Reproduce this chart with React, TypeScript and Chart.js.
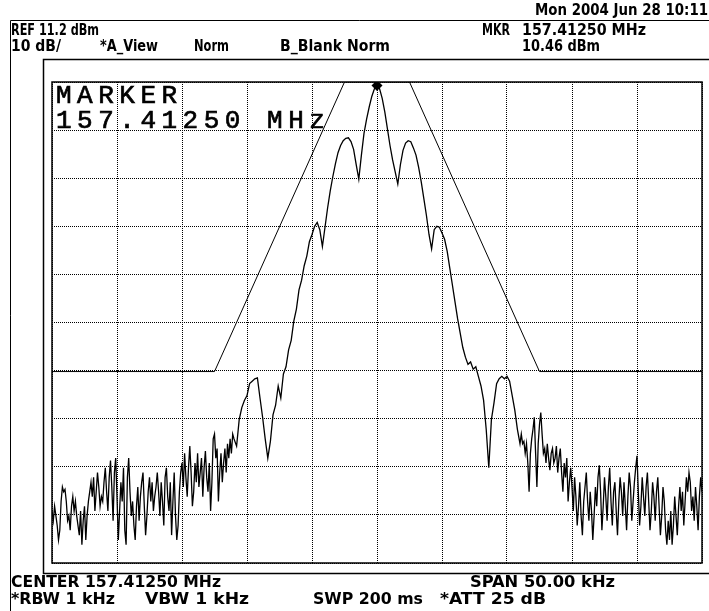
import React, { useEffect, useRef } from "react";
import { Chart, registerables } from "chart.js";

Chart.register(...registerables);

// ---- analyzer settings ----
const REF_LEVEL = 11.2; // dBm, top of screen
const DB_PER_DIV = 10;
const DIVISIONS = 10;
const SPAN_KHZ = 50;

// ---- trace (dBm), left to right ----
// noise floor, -25.0 .. -11.1 kHz, 0.1 kHz apart
const leftFloor = [
  -78, -80, -77, -79, -81, -84, -82, -76, -73, -74,
  -73.5, -76, -80, -79, -82, -77, -75, -78, -76, -79,
  -81, -83, -78, -85, -80, -77, -84, -79, -76, -74,
  -72, -75, -71, -78, -74, -70, -73, -77, -75, -76,
  -72, -69, -74, -78, -71, -67.5, -73, -80, -70, -67,
  -75, -84, -78, -72, -76, -69, -82, -85, -71, -67,
  -74, -79, -76, -81, -84, -77, -73, -80, -75, -72,
  -70, -77, -83, -79, -74, -71, -76, -72, -78, -75,
  -73, -70, -74, -79, -72, -76, -81, -71, -69, -75,
  -78, -72, -83, -76, -70, -79, -84, -81, -74, -70,
  -68, -73, -66, -71, -75, -69, -64.5, -70, -77, -74,
  -68, -72, -66, -73, -70, -67, -75, -69, -65.5, -71,
  -74, -68, -78, -72, -63, -62, -67, -65, -76, -70,
  -66, -72, -68, -65, -70, -64, -67, -63, -66, -62,
];
// left skirt, -11.0 .. -5.2 kHz, 0.2 kHz apart
const leftSkirt = [
  -63, -64.5, -59, -56.5, -55, -54, -51.5, -51, -50.5, -50.3,
  -54.5, -58.5, -63, -67, -63.5, -58, -56, -52, -54.5, -49.5,
  -48, -44.5, -42.5, -38.5, -36, -32, -30, -27, -25, -22,
];
// main lobe, -5.0 .. +5.0 kHz, 0.2 kHz apart
const mainLobe = [
  -20.5, -18.8, -18, -19.5, -23, -19, -15, -11.5, -8.5, -5.8,
  -3.5, -2, -1, -0.5, -0.4, -1.2, -2.8, -6, -9, -4,
  0.5, 3.5, 6, 8.2, 9.8, 10.46, 9.8, 7.8, 5, 1.5,
  -2, -5, -7.5, -10, -6, -3, -1.5, -1, -1.2, -2.5,
  -4, -6.5, -9.5, -13, -16.5, -20.5, -23.5, -19.5, -18.8, -19, -20.2,
];
// right skirt, +5.2 .. +11.0 kHz, 0.2 kHz apart
const rightSkirt = [
  -21.5, -24, -27.5, -31, -34.5, -38, -41, -44, -46, -47.5,
  -47, -48.5, -48, -50, -52, -55, -61, -69, -59, -55.5,
  -51.5, -50.5, -50, -50.5, -50, -51, -54, -57, -61, -64,
];
// noise floor, +11.1 .. +25.0 kHz, 0.1 kHz apart
const rightFloor = [
  -62, -64, -63.5, -66, -64, -68, -74, -66, -63, -61,
  -58.5, -66, -73, -64, -60, -57.5, -62, -66, -65, -68,
  -64, -67, -69.5, -66, -65, -68, -67, -64.5, -70, -67,
  -65, -70, -74, -68, -71, -67, -76, -72, -69, -73,
  -78, -71, -75, -81, -77, -72, -79, -83, -76, -73,
  -70, -76, -80, -74, -78, -84, -79, -73, -77, -71,
  -68.5, -74, -82, -77, -71, -75, -80, -73, -69, -76,
  -81, -74, -72, -78, -83, -76, -71, -74, -79, -72,
  -77, -82, -75, -70, -73, -80, -76, -72, -69, -66.5,
  -74, -81, -77, -71, -75, -79, -73, -70, -76, -82,
  -78, -72, -75, -80, -74, -71, -77, -83, -79, -73,
  -76, -82, -85, -80, -84, -78, -85, -81, -75, -79,
  -83, -77, -73, -78, -74, -81, -76, -71, -74, -70,
  -72, -78, -75, -80, -73, -77, -82, -75, -71, -74,
];
// sweep segments: start frequency (kHz) and point spacing (kHz)
const segmentStart = [-25.0, -11.0, -5.0, 5.2, 11.1];
const segmentStep = [0.1, 0.2, 0.2, 0.2, 0.1];
const segmentValues = [leftFloor, leftSkirt, mainLobe, rightSkirt, rightFloor];

// ---- limit mask ----
const maskFreq = [-25, -12.5, -2.5, 2.5, 12.5, 25];
const maskLevel = [-49, -49, 11.2, 11.2, -49, -49];

// ---- marker ----
const markerFreq = 0;
const markerLevel = 10.46;

// ---- annotation text ----
const dateText = "Mon 2004 Jun 28 10:11";
const headerRow1 = ["REF 11.2 dBm", "MKR", "157.41250 MHz"];
const headerRow2 = ["10 dB/", "*A_View", "Norm", "B_Blank Norm", "10.46 dBm"];
const footerRow1 = ["CENTER 157.41250 MHz", "SPAN 50.00 kHz"];
const footerRow2 = ["*RBW 1 kHz", "VBW 1 kHz", "SWP 200 ms", "*ATT 25 dB"];
const markerBox = ["MARKER", "157.41250 MHz"];

const traceData = segmentValues.flatMap((vals, s) =>
  vals.map((v, i) => ({ x: segmentStart[s] + i * segmentStep[s], y: v }))
);
const maskData = maskFreq.map((f, i) => ({ x: f, y: maskLevel[i] }));
const yTicks = Array.from({ length: DIVISIONS + 1 }, (_, k) => REF_LEVEL - k * DB_PER_DIV);

const HEADER_FONT = 'bold 15px "DejaVu Sans Condensed", "Liberation Sans Narrow", sans-serif';
const MARKER_FONT = '26px "Liberation Mono", "DejaVu Sans Mono", monospace';

// draw text stretched to a given width (instrument bitmap font emulation)
function fitText(ctx: CanvasRenderingContext2D, text: string, x: number, y: number, w: number) {
  const m = ctx.measureText(text).width;
  ctx.save();
  ctx.translate(x, y);
  ctx.scale(w / m, 1);
  ctx.fillText(text, 0, 0);
  ctx.restore();
}

const framePlugin = {
  id: "analyzerFrame",
  afterDraw(chart: any) {
    const { ctx, chartArea: a } = chart;
    ctx.save();
    ctx.strokeStyle = "#000";
    ctx.lineWidth = 1;
    // instrument frame rules
    ctx.beginPath();
    ctx.moveTo(10.5, 611);
    ctx.lineTo(10.5, 20.5);
    ctx.lineTo(709, 20.5);
    ctx.stroke();
    // graticule surround
    ctx.lineWidth = 1.5;
    ctx.strokeRect(43.5, 59.5, 700, 514);
    // graticule border
    ctx.strokeRect(a.left, a.top, a.right - a.left, a.bottom - a.top);

    ctx.fillStyle = "#000";
    ctx.textBaseline = "alphabetic";
    ctx.textAlign = "left";
    ctx.font = HEADER_FONT;
    fitText(ctx, dateText, 535, 15, 173);
    fitText(ctx, headerRow1[0], 11, 35, 88);
    fitText(ctx, headerRow1[1], 482, 35, 28);
    fitText(ctx, headerRow1[2], 522, 35, 124);
    fitText(ctx, headerRow2[0], 11, 51, 50);
    fitText(ctx, headerRow2[1], 100, 51, 58);
    fitText(ctx, headerRow2[2], 194, 51, 35);
    fitText(ctx, headerRow2[3], 280, 51, 110);
    fitText(ctx, headerRow2[4], 522, 51, 78);
    fitText(ctx, footerRow1[0], 11, 587, 210);
    fitText(ctx, footerRow1[1], 470, 587, 145);
    fitText(ctx, footerRow2[0], 11, 604, 104);
    fitText(ctx, footerRow2[1], 145, 604, 104);
    fitText(ctx, footerRow2[2], 313, 604, 110);
    fitText(ctx, footerRow2[3], 440, 604, 106);

    ctx.font = MARKER_FONT;
    (ctx as any).letterSpacing = "5.5px";
    ctx.lineWidth = 0.7;
    ctx.fillText(markerBox[0], 56, 103);
    ctx.strokeText(markerBox[0], 56, 103);
    ctx.fillText(markerBox[1], 56, 128);
    ctx.strokeText(markerBox[1], 56, 128);
    ctx.restore();
  },
};

export default function App() {
  const ref = useRef<HTMLCanvasElement | null>(null);

  useEffect(() => {
    if (!ref.current) return;
    const chart = new Chart(ref.current, {
      type: "line",
      data: {
        datasets: [
          {
            type: "scatter",
            data: [{ x: markerFreq, y: markerLevel }],
            pointStyle: "rectRot",
            pointRadius: 5.5,
            backgroundColor: "#000",
            borderColor: "#000",
            borderWidth: 0,
            showLine: false,
          } as any,
          {
            data: traceData,
            borderColor: "#000",
            borderWidth: 1.3,
            pointRadius: 0,
            tension: 0,
          },
          {
            data: maskData,
            borderColor: "#000",
            borderWidth: 1,
            pointRadius: 0,
            tension: 0,
          },
        ],
      },
      options: {
        responsive: false,
        animation: false,
        devicePixelRatio: 1,
        layout: { padding: { left: 52, top: 82, right: 7, bottom: 48 } },
        plugins: { legend: { display: false }, tooltip: { enabled: false } },
        scales: {
          x: {
            type: "linear",
            min: -SPAN_KHZ / 2,
            max: SPAN_KHZ / 2,
            ticks: { display: false, stepSize: SPAN_KHZ / DIVISIONS },
            grid: { color: "#000", lineWidth: 1, drawTicks: false },
            border: { display: false, dash: [1, 1] },
          },
          y: {
            type: "linear",
            min: REF_LEVEL - DIVISIONS * DB_PER_DIV,
            max: REF_LEVEL,
            afterBuildTicks: (scale: any) => {
              scale.ticks = yTicks.map((v) => ({ value: v }));
            },
            ticks: { display: false },
            grid: { color: "#000", lineWidth: 1, drawTicks: false },
            border: { display: false, dash: [1, 1] },
          },
        },
      },
      plugins: [framePlugin],
    });
    return () => chart.destroy();
  }, []);

  return (
    <div style={{ position: "absolute", left: 0, top: 0, width: 709, height: 611, background: "#fff" }}>
      <canvas ref={ref} width={709} height={611} style={{ width: 709, height: 611, display: "block" }} />
    </div>
  );
}
